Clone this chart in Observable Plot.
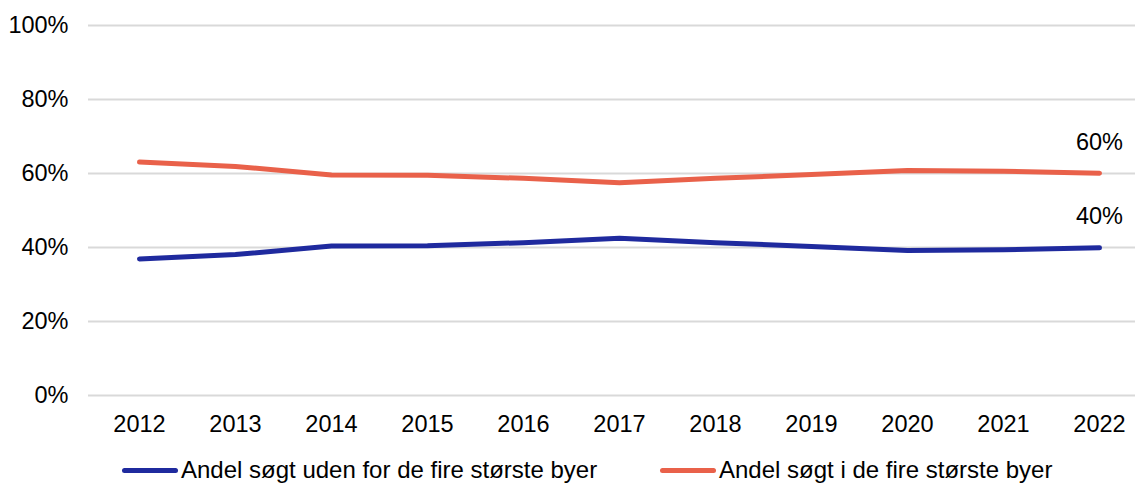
<!DOCTYPE html>
<html>
<head>
<meta charset="utf-8">
<script src="https://cdn.jsdelivr.net/npm/d3@7"></script>
<script src="https://cdn.jsdelivr.net/npm/@observablehq/plot@0.6"></script>
<style>
  html, body { margin: 0; padding: 0; background: #fff; overflow: hidden; }
  #wrap { position: relative; width: 1135px; height: 485px; overflow: hidden; font-family: "Liberation Sans", Arial, sans-serif; }
  #chart svg { max-width: none !important; }
  #legend { position: absolute; left: 0; top: 456px; width: 1135px; height: 28px; font-size: 24px; line-height: 28px; color: #000; }
  .item { position: absolute; top: 0; display: flex; align-items: center; height: 28px; white-space: nowrap; }
  .sw { width: 56px; height: 5px; border-radius: 3px; margin-right: 3px; }
</style>
</head>
<body>
<div id="wrap"><div id="chart"></div><div id="legend"></div></div>
<script>
const years = [2012, 2013, 2014, 2015, 2016, 2017, 2018, 2019, 2020, 2021, 2022];
const outside = [0.369, 0.381, 0.404, 0.405, 0.413, 0.425, 0.413, 0.403, 0.392, 0.394, 0.399];
const inside  = [0.631, 0.619, 0.596, 0.595, 0.587, 0.575, 0.587, 0.597, 0.608, 0.606, 0.601];
const seriesNames = ["Andel søgt uden for de fire største byer", "Andel søgt i de fire største byer"];
const colors = ["#1f2a9e", "#e9614a"];
const yTicks = [0, 0.2, 0.4, 0.6, 0.8, 1.0];

const data = [];
years.forEach((y, i) => {
  data.push({year: String(y), value: outside[i], series: seriesNames[0]});
  data.push({year: String(y), value: inside[i], series: seriesNames[1]});
});
const last = data.filter(d => d.year === String(years[years.length - 1]));
const pct = d3.format(".0%");

const chart = Plot.plot({
  width: 1150,
  height: 450,
  marginLeft: 88,
  marginRight: 0,
  marginTop: 25,
  marginBottom: 55,
  style: {fontFamily: "Liberation Sans, Arial, sans-serif", fontSize: "23.5px", color: "#000", background: "#fff", maxWidth: "none"},
  x: {type: "point", domain: years.map(String), padding: 0.5, label: null, tickSize: 0, tickPadding: 20},
  y: {domain: [0, 1], ticks: yTicks, tickFormat: pct, label: null, tickSize: 0, tickPadding: 20},
  color: {domain: seriesNames, range: colors},
  marks: [
    Plot.gridY(yTicks, {stroke: "#d9d9d9", strokeOpacity: 1, strokeWidth: 2}),
    Plot.axisX({tickSize: 0, tickPadding: 20, fontSize: 23.5, label: null}),
    Plot.axisY(yTicks, {tickSize: 0, tickPadding: 20, fontSize: 23.5, tickFormat: pct, label: null}),
    Plot.line(data, {x: "year", y: "value", z: "series", stroke: "series", strokeWidth: 5, strokeLinecap: "round", strokeLinejoin: "round"}),
    Plot.text(last, {x: "year", y: "value", text: d => pct(d.value), dy: -31, fontSize: 23.5, fill: "#000"})
  ]
});
chart.style.maxWidth = "none";
document.getElementById("chart").appendChild(chart);

const legend = document.getElementById("legend");
const lefts = [122, 660];
seriesNames.forEach((name, i) => {
  const it = document.createElement("div");
  it.className = "item";
  it.style.left = lefts[i] + "px";
  const sw = document.createElement("span");
  sw.className = "sw";
  sw.style.background = colors[i];
  const t = document.createElement("span");
  t.textContent = name;
  it.appendChild(sw); it.appendChild(t);
  legend.appendChild(it);
});
</script>
</body>
</html>
